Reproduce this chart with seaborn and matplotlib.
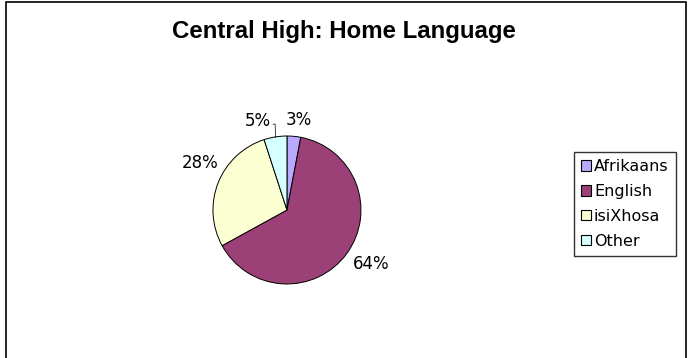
import matplotlib
matplotlib.use("Agg")
import numpy as np
import matplotlib.pyplot as plt
import matplotlib.patches as mpatches
import seaborn as sns

# chart data
languages = ["Afrikaans", "English", "isiXhosa", "Other"]
shares = [3, 64, 28, 5]
slice_colors = ["#B9AAFF", "#9C4078", "#FBFFD2", "#D6FFFF"]
title = "Central High: Home Language"

sns.set_theme(style="white")
plt.rcParams["font.family"] = ["DejaVu Sans"]
plt.rcParams["text.color"] = "black"

fig = plt.figure(figsize=(6.89, 3.58), dpi=100)
fig.patch.set_facecolor("white")

# outer chart border (bottom edge runs off the picture)
fig.patches.append(mpatches.Rectangle((6 / 689, -0.05), 680 / 689, 1.05 - 1.5 / 358,
                                      transform=fig.transFigure, fill=False,
                                      edgecolor="black", linewidth=1.2))

ax = fig.add_axes([0.3091, 0.2067, 0.2148, 0.4134])
palette = sns.color_palette(slice_colors)
wedges, texts = ax.pie(shares, colors=palette, startangle=90, counterclock=False,
                       wedgeprops=dict(edgecolor="black", linewidth=0.7))
ax.set_xlim(-1, 1)
ax.set_ylim(-1, 1)
ax.set_aspect("equal")
ax.axis("off")

# percentage labels outside the pie: (radius, angle shift in degrees)
label_place = [(1.22, -2), (1.35, 3), (1.34, -7), (1.27, 9)]
for i, (w, s) in enumerate(zip(wedges, shares)):
    mid = (w.theta1 + w.theta2) / 2
    r, shift = label_place[i]
    ang = np.deg2rad(mid + shift)
    pos = (r * np.cos(ang), r * np.sin(ang))
    if languages[i] == "Other":
        # short leader line from the label down to the slice
        edge = np.deg2rad(mid)
        ax.plot([-0.19, -0.16, np.cos(edge) * 0.99], [1.16, 1.16, np.sin(edge) * 0.99],
                color="black", linewidth=0.5, clip_on=False)
    ax.text(pos[0], pos[1], f"{s}%", ha="center", va="center",
            fontsize=12, color="black")

fig.text(344 / 689, 1 - 38 / 358, title, ha="center", va="baseline",
         fontsize=17.3, fontweight="bold", family="Liberation Sans", color="black")

handles = [mpatches.Patch(facecolor=c, edgecolor="black", linewidth=0.8) for c in palette]
leg = fig.legend(handles, languages, loc="upper left",
                 bbox_to_anchor=(574 / 689, 1 - 152 / 358),
                 frameon=True, fancybox=False, fontsize=11.5,
                 handlelength=0.6, handleheight=0.6, handletextpad=0.2,
                 labelspacing=0.62, borderpad=0.45, borderaxespad=0)
leg.get_frame().set_edgecolor("black")
leg.get_frame().set_linewidth(1.0)
for t in leg.get_texts():
    t.set_color("black")

fig.savefig("out.png", dpi=100)
